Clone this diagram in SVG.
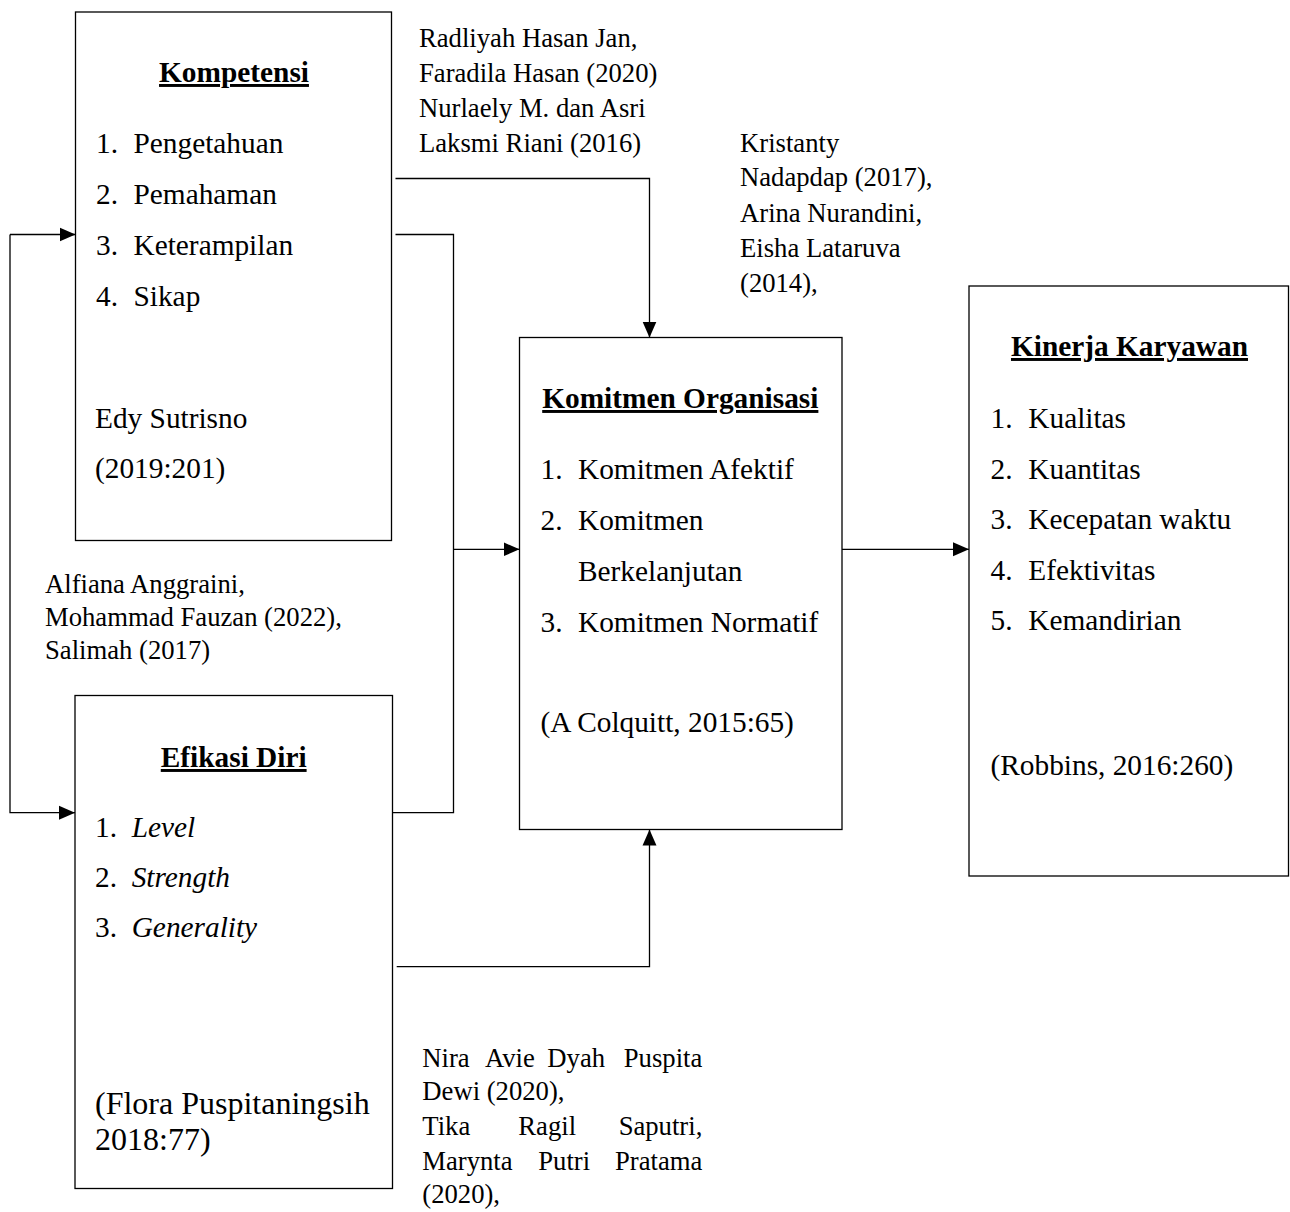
<svg xmlns="http://www.w3.org/2000/svg" width="1290" height="1212" viewBox="0 0 1290 1212">
<style>
  text { font-family: "Liberation Serif", "Times New Roman", serif; fill: #000; }
  .t { font-size: 29.33px; font-weight: bold; text-decoration: underline; }
  .i { font-size: 29.33px; }
  .c { font-size: 26.67px; }
  .box { fill: #fff; stroke: #000; stroke-width: 1.3; }
  .ln { fill: none; stroke: #000; stroke-width: 1.3; }
</style>
<defs>
  <marker id="ah" markerUnits="userSpaceOnUse" markerWidth="16" markerHeight="16" viewBox="0 0 16 16" refX="16" refY="8" orient="auto">
    <path d="M0,1 L16,8 L0,15 Z" fill="#000"/>
  </marker>
</defs>

<rect width="1290" height="1212" fill="#fff"/>

<g id="kompetensi">
  <rect class="box" x="75.5" y="12" width="316" height="528.5"/>
  <text class="t" x="234" y="82" text-anchor="middle">Kompetensi</text>
  <text class="i" x="96" y="153">1.</text><text class="i" x="133.5" y="153">Pengetahuan</text>
  <text class="i" x="96" y="204">2.</text><text class="i" x="133.5" y="204">Pemahaman</text>
  <text class="i" x="96" y="255">3.</text><text class="i" x="133.5" y="255">Keterampilan</text>
  <text class="i" x="96" y="306">4.</text><text class="i" x="133.5" y="306">Sikap</text>
  <text class="i" x="95" y="428">Edy Sutrisno</text>
  <text class="i" x="95" y="478">(2019:201)</text>
</g>

<g id="efikasi-diri">
  <rect class="box" x="75" y="695.5" width="317.5" height="493"/>
  <text class="t" x="233.7" y="767" text-anchor="middle">Efikasi Diri</text>
  <text class="i" x="95" y="837">1.</text><text class="i" x="131.7" y="837" font-style="italic">Level</text>
  <text class="i" x="95" y="887">2.</text><text class="i" x="131.7" y="887" font-style="italic">Strength</text>
  <text class="i" x="95" y="937">3.</text><text class="i" x="131.7" y="937" font-style="italic">Generality</text>
  <text x="95" y="1114" font-size="32">(Flora Puspitaningsih</text>
  <text x="95" y="1150" font-size="32">2018:77)</text>
</g>

<g id="komitmen-organisasi">
  <rect class="box" x="519.5" y="337.5" width="322.5" height="492"/>
  <text class="t" x="680.3" y="408" text-anchor="middle">Komitmen Organisasi</text>
  <text class="i" x="540.5" y="478.5">1.</text><text class="i" x="578" y="478.5">Komitmen Afektif</text>
  <text class="i" x="540.5" y="530">2.</text><text class="i" x="578" y="530">Komitmen</text>
  <text class="i" x="578" y="580.5">Berkelanjutan</text>
  <text class="i" x="540.5" y="631.5">3.</text><text class="i" x="578" y="631.5">Komitmen Normatif</text>
  <text class="i" x="540.5" y="731.5">(A Colquitt, 2015:65)</text>
</g>

<g id="kinerja-karyawan">
  <rect class="box" x="969" y="286" width="319.5" height="590"/>
  <text class="t" x="1129.5" y="356" text-anchor="middle">Kinerja Karyawan</text>
  <text class="i" x="990.5" y="427.5">1.</text><text class="i" x="1028.3" y="427.5">Kualitas</text>
  <text class="i" x="990.5" y="478.5">2.</text><text class="i" x="1028.3" y="478.5">Kuantitas</text>
  <text class="i" x="990.5" y="528.5">3.</text><text class="i" x="1028.3" y="528.5">Kecepatan waktu</text>
  <text class="i" x="990.5" y="579.5">4.</text><text class="i" x="1028.3" y="579.5">Efektivitas</text>
  <text class="i" x="990.5" y="630">5.</text><text class="i" x="1028.3" y="630">Kemandirian</text>
  <text class="i" x="990.5" y="775">(Robbins, 2016:260)</text>
</g>

<g id="citations">
  <text class="c" x="419" y="47">Radliyah Hasan Jan,</text>
  <text class="c" x="419" y="82">Faradila Hasan (2020)</text>
  <text class="c" x="419" y="117">Nurlaely M. dan Asri</text>
  <text class="c" x="419" y="152">Laksmi Riani (2016)</text>

  <text class="c" x="740" y="151.5">Kristanty</text>
  <text class="c" x="740" y="186">Nadapdap (2017),</text>
  <text class="c" x="740" y="221.5">Arina Nurandini,</text>
  <text class="c" x="740" y="256.5">Eisha Lataruva</text>
  <text class="c" x="740" y="291.5">(2014),</text>

  <text class="c" x="45" y="593">Alfiana Anggraini,</text>
  <text class="c" x="45" y="626">Mohammad Fauzan (2022),</text>
  <text class="c" x="45" y="658.5">Salimah (2017)</text>

  <text class="c" y="1066.5"><tspan x="422.3">Nira</tspan><tspan x="485">Avie</tspan><tspan x="547.3">Dyah</tspan><tspan x="702.3" text-anchor="end">Puspita</tspan></text>
  <text class="c" x="422.3" y="1100">Dewi (2020),</text>
  <text class="c" y="1135"><tspan x="422.3">Tika</tspan><tspan x="518.3">Ragil</tspan><tspan x="702.3" text-anchor="end">Saputri,</tspan></text>
  <text class="c" y="1170"><tspan x="422.3">Marynta</tspan><tspan x="538.3">Putri</tspan><tspan x="702.3" text-anchor="end">Pratama</tspan></text>
  <text class="c" x="422.3" y="1203">(2020),</text>
</g>

<g id="connectors">
  <path class="ln" d="M395.5,178.5 H649.5 V337.5" marker-end="url(#ah)"/>
  <path class="ln" d="M395.5,234.5 H453.5 V812.7 H392.5"/>
  <path class="ln" d="M453.5,549.3 H519.5" marker-end="url(#ah)"/>
  <path class="ln" d="M10,234.5 H75.5" marker-end="url(#ah)"/>
  <path class="ln" d="M10,234.5 V812.7 H75" marker-end="url(#ah)"/>
  <path class="ln" d="M396.7,966.7 H649.5 V829.5" marker-end="url(#ah)"/>
  <path class="ln" d="M842,549.3 H969" marker-end="url(#ah)"/>
</g>
</svg>
